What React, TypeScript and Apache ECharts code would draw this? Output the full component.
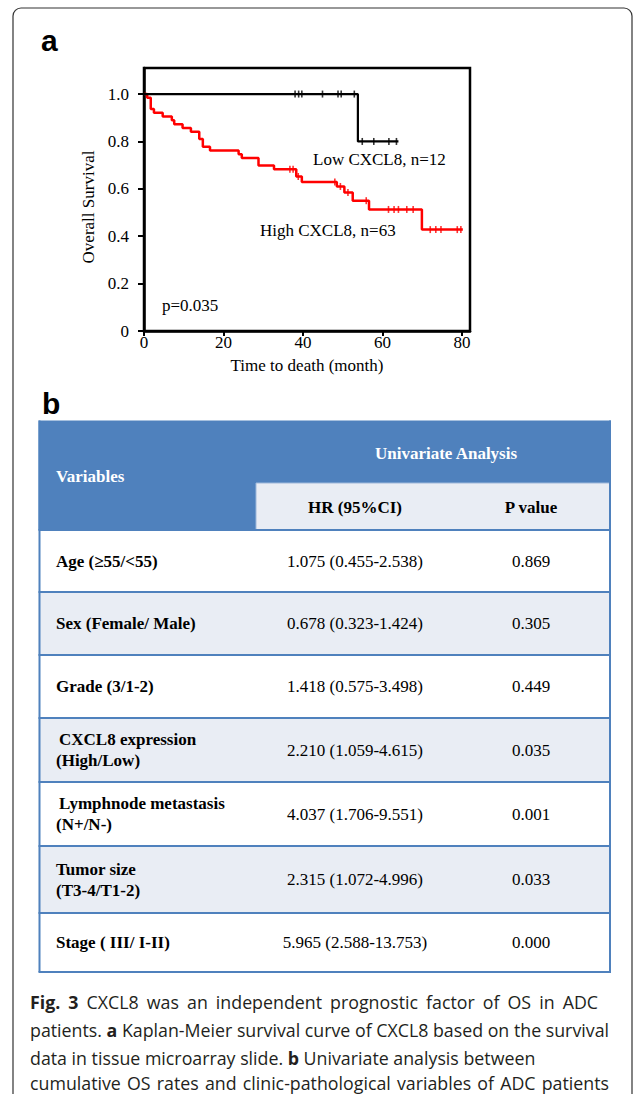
import React, { useEffect, useRef } from 'react';
import * as echarts from 'echarts';

// ---- Panel a: Kaplan-Meier data ----
const xTicks = [0, 20, 40, 60, 80];
const yTicks = [0, 0.2, 0.4, 0.6, 0.8, 1.0];

const lowTimes = [0, 53.8, 64.0];
const lowSurv = [1.0, 0.8, 0.8];
const lowCensorTimes = [38.0, 38.9, 39.7, 44.9, 48.8, 49.6, 52.9, 54.9, 57.8, 61.6, 63.5];
const lowCensorSurv = [1, 1, 1, 1, 1, 1, 1, 0.8, 0.8, 0.8, 0.8];

const highTimes = [0, 0.8, 1.7, 2.5, 4.7, 7.0, 7.6, 9.7, 11.8, 13.9, 14.8, 16.6, 23.8, 24.6, 28.8, 32.7, 38.3, 39.7, 48.5, 50.4, 52.5, 56.6, 69.9, 80.2];
const highSurv = [1.0, 0.984, 0.937, 0.921, 0.905, 0.889, 0.873, 0.857, 0.841, 0.810, 0.778, 0.762, 0.746, 0.730, 0.698, 0.683, 0.652, 0.629, 0.610, 0.585, 0.550, 0.513, 0.428, 0.428];
const highCensorTimes = [36.7, 37.5, 38.8, 48.0, 49.4, 51.3, 55.9, 61.5, 62.9, 64.0, 66.1, 67.7, 72.0, 73.4, 74.7, 78.8, 79.7];
const highCensorSurv = [0.683, 0.683, 0.652, 0.629, 0.610, 0.585, 0.550, 0.513, 0.513, 0.513, 0.513, 0.513, 0.428, 0.428, 0.428, 0.428, 0.428];

// ---- Panel b: table data ----
const variableLabels = [
  ['Age (≥55/<55)'],
  ['Sex (Female/ Male)'],
  ['Grade (3/1-2)'],
  ['CXCL8 expression', '(High/Low)'],
  ['Lymphnode metastasis', '(N+/N-)'],
  ['Tumor size', '(T3-4/T1-2)'],
  ['Stage ( III/ I-II)'],
];
const hrValues = [
  '1.075 (0.455-2.538)',
  '0.678 (0.323-1.424)',
  '1.418 (0.575-3.498)',
  '2.210 (1.059-4.615)',
  '4.037 (1.706-9.551)',
  '2.315 (1.072-4.996)',
  '5.965 (2.588-13.753)',
];
const pValues = ['0.869', '0.305', '0.449', '0.035', '0.001', '0.033', '0.000'];

const captionLines = [
  '{b|Fig. 3} CXCL8 was an independent prognostic factor of OS in ADC',
  'patients. {b|a} Kaplan-Meier survival curve of CXCL8 based on the survival',
  'data in tissue microarray slide. {b|b} Univariate analysis between',
  'cumulative OS rates and clinic-pathological variables of ADC patients',
];
// right edge each line is justified to (0 = not justified)
const captionRight = [598, 609, 0, 609];

// layout (pixels)
const SERIF = '"Liberation Serif", "Times New Roman", serif';
const SANS = '"Liberation Sans", Arial, sans-serif';
const CAP_FONT = '"Open Sans", "Noto Sans", sans-serif';
const CAP_SIZE = 17.8;
const CAP_LEFT = 30;
const CAP_Y = [1002, 1030, 1058, 1083];
const BLUE = '#4F81BD';
const LIGHT = '#E9EDF4';
const T_LEFT = 38.5;
const T_RIGHT = 611;
const T_TOP = 420.5;
const SUB_TOP = 483;
const HEAD_BOTTOM = 530;
const SPLIT_X = 256;
const rowEdges = [530, 592, 655, 718, 782, 846, 913, 972];
const HR_X = 355;
const P_X = 531;
const LABEL_X = 56;

function parseWords(line: string) {
  const runs: { text: string; bold: boolean }[] = [];
  const re = /\{b\|([^}]*)\}/g;
  let last = 0;
  let m: RegExpExecArray | null;
  while ((m = re.exec(line))) {
    if (m.index > last) runs.push({ text: line.slice(last, m.index), bold: false });
    runs.push({ text: m[1], bold: true });
    last = m.index + m[0].length;
  }
  if (last < line.length) runs.push({ text: line.slice(last), bold: false });
  const words: { text: string; bold: boolean }[][] = [];
  let cur: { text: string; bold: boolean }[] = [];
  runs.forEach((r) => {
    const parts = r.text.split(' ');
    parts.forEach((p, i) => {
      if (i > 0) {
        if (cur.length) words.push(cur);
        cur = [];
      }
      if (p.length) cur.push({ text: p, bold: r.bold });
    });
  });
  if (cur.length) words.push(cur);
  return words;
}

function buildCaption() {
  const g: any[] = [];
  const ctx = document.createElement('canvas').getContext('2d')!;
  const measure = (t: string, bold: boolean) => {
    ctx.font = `${bold ? 'bold ' : ''}${CAP_SIZE}px ${CAP_FONT}`;
    return ctx.measureText(t).width;
  };
  const spaceW = measure(' ', false);
  captionLines.forEach((line, li) => {
    const words = parseWords(line);
    const widths = words.map((w) => w.reduce((s, p) => s + measure(p.text, p.bold), 0));
    const total = widths.reduce((a, b) => a + b, 0);
    const right = captionRight[li];
    let gap = spaceW;
    if (right > 0 && words.length > 1) gap = Math.max(spaceW * 0.7, (right - CAP_LEFT - total) / (words.length - 1));
    let x = CAP_LEFT;
    words.forEach((w, wi) => {
      let px = x;
      w.forEach((p) => {
        g.push({
          type: 'text', x: px, y: CAP_Y[li],
          style: { text: p.text, font: `${p.bold ? 'bold ' : ''}${CAP_SIZE}px ${CAP_FONT}`, fill: '#231F20', verticalAlign: 'middle' },
        });
        px += measure(p.text, p.bold);
      });
      x += widths[wi] + gap;
    });
  });
  return g;
}

function buildGraphics() {
  const g: any[] = [];
  g.push({
    type: 'rect', z: 0,
    shape: { x: 13, y: 8, width: 619, height: 1200, r: 8 },
    style: { fill: 'none', stroke: '#333', lineWidth: 1.2 },
  });
  g.push({ type: 'text', x: 41, y: 40, style: { text: 'a', font: `bold 30px ${SANS}`, fill: '#000', verticalAlign: 'middle' } });
  g.push({ type: 'text', x: 42, y: 403, style: { text: 'b', font: `bold 30px ${SANS}`, fill: '#000', verticalAlign: 'middle' } });
  g.push({ type: 'text', x: 88, y: 207, rotation: Math.PI / 2, style: { text: 'Overall Survival', font: `17px ${SERIF}`, fill: '#000', align: 'center', verticalAlign: 'middle' } });
  g.push({ type: 'text', x: 313, y: 159, style: { text: 'Low CXCL8, n=12', font: `17px ${SERIF}`, fill: '#000', verticalAlign: 'middle' } });
  g.push({ type: 'text', x: 260, y: 230, style: { text: 'High CXCL8, n=63', font: `17px ${SERIF}`, fill: '#000', verticalAlign: 'middle' } });
  g.push({ type: 'text', x: 162, y: 305, style: { text: 'p=0.035', font: `17px ${SERIF}`, fill: '#000', verticalAlign: 'middle' } });

  g.push({ type: 'rect', shape: { x: T_LEFT, y: T_TOP, width: T_RIGHT - T_LEFT, height: HEAD_BOTTOM - T_TOP }, style: { fill: BLUE } });
  g.push({ type: 'rect', shape: { x: SPLIT_X, y: SUB_TOP, width: T_RIGHT - SPLIT_X - 1, height: HEAD_BOTTOM - SUB_TOP }, style: { fill: LIGHT, stroke: '#9fb8da', lineWidth: 1 } });
  g.push({ type: 'text', x: LABEL_X, y: 476, style: { text: 'Variables', font: `bold 17px ${SERIF}`, fill: '#fff', verticalAlign: 'middle' } });
  g.push({ type: 'text', x: 446, y: 453, style: { text: 'Univariate Analysis', font: `bold 17px ${SERIF}`, fill: '#fff', align: 'center', verticalAlign: 'middle' } });
  g.push({ type: 'text', x: HR_X, y: 507, style: { text: 'HR (95%CI)', font: `bold 17px ${SERIF}`, fill: '#000', align: 'center', verticalAlign: 'middle' } });
  g.push({ type: 'text', x: P_X, y: 507, style: { text: 'P value', font: `bold 17px ${SERIF}`, fill: '#000', align: 'center', verticalAlign: 'middle' } });

  variableLabels.forEach((lines, i) => {
    const y0 = rowEdges[i];
    const y1 = rowEdges[i + 1];
    const cy = (y0 + y1) / 2;
    g.push({ type: 'rect', shape: { x: T_LEFT, y: y0, width: T_RIGHT - T_LEFT, height: y1 - y0 }, style: { fill: i % 2 === 1 ? LIGHT : '#fff' } });
    lines.forEach((ln, k) => {
      const off = lines.length === 1 ? 0 : (k === 0 ? -10.5 : 10.5);
      const lx = lines.length === 2 && k === 0 && (i === 3 || i === 4) ? LABEL_X + 3 : LABEL_X;
      g.push({ type: 'text', x: lx, y: cy + off, style: { text: ln, font: `bold 17px ${SERIF}`, fill: '#000', verticalAlign: 'middle' } });
    });
    g.push({ type: 'text', x: HR_X, y: cy, style: { text: hrValues[i], font: `17px ${SERIF}`, fill: '#000', align: 'center', verticalAlign: 'middle' } });
    g.push({ type: 'text', x: P_X, y: cy, style: { text: pValues[i], font: `17px ${SERIF}`, fill: '#000', align: 'center', verticalAlign: 'middle' } });
  });
  rowEdges.forEach((y) => {
    g.push({ type: 'line', shape: { x1: T_LEFT, y1: y, x2: T_RIGHT, y2: y }, style: { stroke: BLUE, lineWidth: 2 } });
  });
  g.push({ type: 'line', shape: { x1: T_LEFT + 1, y1: T_TOP, x2: T_LEFT + 1, y2: rowEdges[rowEdges.length - 1] }, style: { stroke: BLUE, lineWidth: 2 } });
  g.push({ type: 'line', shape: { x1: T_RIGHT - 1, y1: T_TOP, x2: T_RIGHT - 1, y2: rowEdges[rowEdges.length - 1] }, style: { stroke: BLUE, lineWidth: 2 } });

  return g.concat(buildCaption());
}

export default function App() {
  const ref = useRef<HTMLDivElement>(null);
  useEffect(() => {
    if (!ref.current) return;
    const chart = echarts.init(ref.current, null, { renderer: 'svg' });
    const axisFont = { color: '#000', fontFamily: SERIF, fontSize: 17 };
    chart.setOption({
      animation: false,
      backgroundColor: '#fff',
      grid: { left: 144, top: 68, width: 326, height: 263, show: true, borderColor: '#000', borderWidth: 2.5 },
      xAxis: {
        type: 'value', min: 0, max: 82,
        axisLine: { show: true, lineStyle: { color: '#000', width: 2.5 } },
        axisTick: { show: true, customValues: xTicks, length: 5, lineStyle: { color: '#000', width: 2 } },
        axisLabel: { customValues: xTicks, margin: 3, ...axisFont },
        splitLine: { show: false },
        name: 'Time to death (month)', nameLocation: 'middle', nameGap: 26,
        nameTextStyle: axisFont,
      },
      yAxis: {
        type: 'value', min: 0, max: 1.11,
        axisLine: { show: true, lineStyle: { color: '#000', width: 2.5 } },
        axisTick: { show: true, customValues: yTicks, length: 6, lineStyle: { color: '#000', width: 2 } },
        axisLabel: { customValues: yTicks, margin: 15, formatter: (v: number) => (v === 0 ? '0' : v.toFixed(1)), ...axisFont },
        splitLine: { show: false },
      },
      series: [
        {
          type: 'line', step: 'end', symbol: 'none', z: 3,
          data: highTimes.map((t, i) => [t, highSurv[i]]),
          lineStyle: { color: '#ff0000', width: 2.5 },
        },
        {
          type: 'scatter', symbol: 'rect', symbolSize: [1.6, 7], z: 4,
          data: highCensorTimes.map((t, i) => [t, highCensorSurv[i]]),
          itemStyle: { color: '#ff0000' },
        },
        {
          type: 'line', step: 'end', symbol: 'none', z: 5,
          data: lowTimes.map((t, i) => [t, lowSurv[i]]),
          lineStyle: { color: '#000', width: 2.2 },
        },
        {
          type: 'scatter', symbol: 'rect', symbolSize: [1.6, 7], z: 6,
          data: lowCensorTimes.map((t, i) => [t, lowCensorSurv[i]]),
          itemStyle: { color: '#000' },
        },
      ],
      graphic: buildGraphics(),
    });
    return () => chart.dispose();
  }, []);
  return <div ref={ref} style={{ position: 'absolute', left: 0, top: 0, width: 634, height: 1094 }} />;
}
